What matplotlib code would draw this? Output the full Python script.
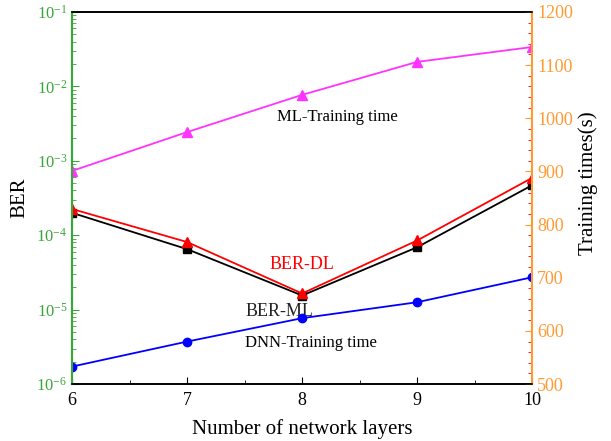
import numpy as np
import matplotlib.pyplot as plt
from matplotlib.ticker import MultipleLocator, LogLocator, NullFormatter

plt.rcParams['font.family'] = ['Liberation Serif', 'DejaVu Serif']
plt.rcParams['mathtext.fontset'] = 'stix'

layers = [6, 7, 8, 9, 10]
ber_dl = [2.25e-4, 8.1e-5, 1.65e-5, 8.5e-5, 5.9e-4]
ber_ml = [2.0e-4, 6.5e-5, 1.55e-5, 6.9e-5, 4.7e-4]
ml_time = [901, 974, 1044, 1106, 1134]
dnn_time = [533, 580, 624, 654, 701]

green = '#3aa53a'
orange = '#ff9a33'

fig = plt.figure(figsize=(6.11, 4.41), dpi=100)
ax = fig.add_axes([0.118, 0.129, 0.753, 0.844])
ax2 = ax.twinx()

ax.plot(layers, ber_ml, color='black', marker='s', markersize=6, lw=1.3)
ax.plot(layers, ber_dl, color='red', marker='^', markersize=7, lw=1.3)
ax2.plot(layers, ml_time, color='#ff33ff', marker='^', markersize=7, lw=1.3)
ax2.plot(layers, dnn_time, color='blue', marker='o', markersize=6, lw=1.3)

ax.set_yscale('log')
ax.set_ylim(1e-6, 1e-1)
ax.set_xlim(6, 10)
ax.xaxis.set_major_locator(MultipleLocator(1))
ax.xaxis.set_minor_locator(MultipleLocator(0.5))
ax.yaxis.set_major_locator(LogLocator(base=10, numticks=10))
ax.yaxis.set_minor_locator(LogLocator(base=10, subs=np.arange(2, 10), numticks=20))
ax.yaxis.set_minor_formatter(NullFormatter())

ax2.set_ylim(500, 1200)
ax2.yaxis.set_major_locator(MultipleLocator(100))
ax2.yaxis.set_minor_locator(MultipleLocator(20))

ax.tick_params(axis='x', which='both', direction='in', top=False, labelsize=13, pad=6)
ax.tick_params(axis='x', which='major', length=5)
ax.tick_params(axis='x', which='minor', length=3)
ax.tick_params(axis='y', which='both', direction='in', colors=green, labelsize=12)
ax.tick_params(axis='y', which='major', length=5)
ax.tick_params(axis='y', which='minor', length=3)
ax2.tick_params(axis='y', which='both', direction='in', colors='red', labelcolor=orange, labelsize=13)
ax2.tick_params(axis='y', which='major', length=5, color=orange)
ax2.tick_params(axis='y', which='minor', length=3)

ax.spines['left'].set_color(green)
ax.spines['left'].set_linewidth(1.5)
ax2.spines['left'].set_color(green)
ax2.spines['left'].set_linewidth(1.5)
ax2.spines['right'].set_color(orange)
ax2.spines['right'].set_linewidth(1.5)
ax.spines['right'].set_visible(False)
for a in (ax, ax2):
    a.spines['top'].set_linewidth(1.2)
    a.spines['bottom'].set_linewidth(1.2)

ax.set_xlabel('Number of network layers', fontsize=15)
ax.set_ylabel('BER', fontsize=15)
ax2.set_ylabel('Training times(s)', fontsize=15)
ax.xaxis.set_label_coords(0.5, -0.095)
ax.yaxis.set_label_coords(-0.093, 0.5)
ax2.yaxis.set_label_coords(1.10, 0.54)

ax2.text(8.31, 1002, 'ML-Training time', fontsize=12, ha='center', va='center')
ax.text(8.0, 4.0e-5, 'BER-DL', fontsize=13, color='red', ha='center', va='center')
ax.text(7.8, 9.5e-6, 'BER-ML', fontsize=13, color='#222222', ha='center', va='center')
ax2.text(8.08, 577, 'DNN-Training time', fontsize=12, ha='center', va='center')

fig.savefig('out.png', dpi=100)
